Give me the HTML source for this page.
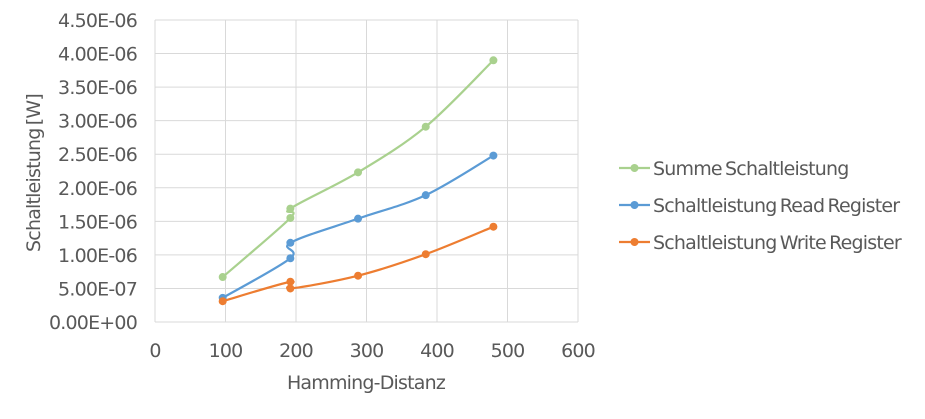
<!DOCTYPE html>
<html><head><meta charset="utf-8"><style>
body{margin:0;background:#fff;font-family:"Liberation Sans","DejaVu Sans",sans-serif;}
svg text{font-family:"DejaVu Sans","Liberation Sans",sans-serif;fill:#595959;letter-spacing:-0.8px}
</style></head><body>
<svg id="chart" width="925" height="414"></svg>
<script>
const xTicks=[0,100,200,300,400,500,600];
const yTicks=[0,0.5,1,1.5,2,2.5,3,3.5,4,4.5];
const yTickLabels=["0.00E+00","5.00E-07","1.00E-06","1.50E-06","2.00E-06","2.50E-06","3.00E-06","3.50E-06","4.00E-06","4.50E-06"];
const xVals=[96,192,192,288,384,480];
const sumValues=[0.67,1.55,1.69,2.23,2.91,3.90];
const readValues=[0.36,0.95,1.18,1.54,1.89,2.48];
const writeValues=[0.31,0.60,0.50,0.69,1.01,1.42];
const seriesNames=["Summe Schaltleistung","Schaltleistung Read Register","Schaltleistung Write Register"];
const NS="http://www.w3.org/2000/svg";
const svg=document.getElementById('chart');
const X=v=>155+v*(578-155)/600;
const Y=v=>322-v*(322-20)/4.5;
function el(t,a,p){const e=document.createElementNS(NS,t);for(const k in a)e.setAttribute(k,a[k]);(p||svg).appendChild(e);return e;}
xTicks.forEach(t=>{
 const l=el('line',{x1:X(t),x2:X(t),y1:20,y2:322,stroke:'#d9d9d9'});
 
 
 const tx=el('text',{x:X(t),y:357,'text-anchor':'middle','font-size':19});tx.textContent=t;
 
 
});
yTicks.forEach((t,i)=>{
 const l=el('line',{x1:155,x2:578,y1:Y(t),y2:Y(t),stroke:'#d9d9d9'});
 
 
 const tx=el('text',{x:137,y:Y(t)+7,'text-anchor':'end','font-size':19});tx.textContent=yTickLabels[i];
 
 
});
let t=el('text',{x:366,y:389,'text-anchor':'middle','font-size':19,'word-spacing':-2});t.textContent='Hamming-Distanz';


t=el('text',{x:0,y:0,'text-anchor':'middle','font-size':19,'word-spacing':-2,transform:'translate(40,173) rotate(-90)'});t.textContent='Schaltleistung [W]';


function path(vals){
 const p=xVals.map((x,i)=>[X(x),Y(vals[i])]);
 let d='M'+p[0][0]+','+p[0][1];
 for(let i=0;i<p.length-1;i++){
  const p0=p[i-1]||p[i],p1=p[i],p2=p[i+1],p3=p[i+2]||p2;
  const c1=[p1[0]+(p2[0]-p0[0])/6,p1[1]+(p2[1]-p0[1])/6];
  const c2=[p2[0]-(p3[0]-p1[0])/6,p2[1]-(p3[1]-p1[1])/6];
  d+=` C${c1[0]},${c1[1]} ${c2[0]},${c2[1]} ${p2[0]},${p2[1]}`;
 }
 return d;
}
const series=[[sumValues,'#a9d18e'],[readValues,'#5b9bd5'],[writeValues,'#ed7d31']];
series.forEach(([vals,c],si)=>{
 const g=el('g',{});
 
 
 el('path',{d:path(vals),fill:'none',stroke:c,'stroke-width':2.2},g);
 vals.forEach((v,i)=>{
  const m=el('circle',{cx:X(xVals[i]),cy:Y(v),r:4,fill:c},g);
  
  
 });
 const ly=168+si*37;
 const lg=el('g',{});
 
 
 el('line',{x1:619,x2:650,y1:ly,y2:ly,stroke:c,'stroke-width':2.2},lg);
 el('circle',{cx:634.5,cy:ly,r:4,fill:c},lg);
 const lt=el('text',{x:653,y:ly+7,'font-size':19,'word-spacing':-2},lg);lt.textContent=seriesNames[si];
});
</script>
</body></html>
